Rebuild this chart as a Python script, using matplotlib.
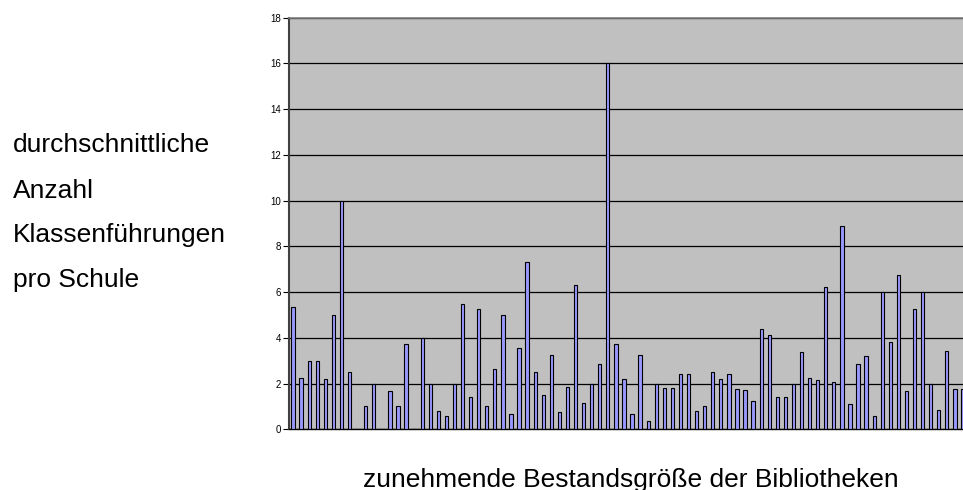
import numpy as np
import matplotlib
matplotlib.use("Agg")
import matplotlib.pyplot as plt

plt.rcParams['font.family'] = ['Liberation Sans', 'DejaVu Sans']

# average number of class visits per school, libraries sorted by stock size
values = [5.33, 2.24, 3.0, 3.0, 2.2, 5.0, 10.0, 2.49, 0, 1.0,
          2.0, 0, 1.66, 1.0, 3.75, 0, 4.0, 2.0, 0.79, 0.6,
          2.0, 5.5, 1.4, 5.25, 1.0, 2.65, 5.0, 0.66, 3.57, 7.33,
          2.49, 1.5, 3.24, 0.74, 1.87, 6.33, 1.14, 2.0, 2.84, 16.0,
          3.75, 2.2, 0.66, 3.24, 0.36, 2.0, 1.79, 1.79, 2.4, 2.4,
          0.82, 1.0, 2.49, 2.2, 2.42, 1.75, 1.73, 1.24, 4.39, 4.11,
          1.43, 1.43, 2.0, 3.37, 2.23, 2.14, 6.21, 2.07, 8.88, 1.12,
          2.84, 3.19, 0.57, 6.0, 3.83, 6.75, 1.66, 5.25, 6.0, 2.0,
          0.83, 3.41, 1.78, 1.75]
yticks = [0, 2, 4, 6, 8, 10, 12, 14, 16, 18]
ylabel_lines = ['durchschnittliche', 'Anzahl', 'Klassenführungen', 'pro Schule']
xlabel = 'zunehmende Bestandsgröße der Bibliotheken'

fig = plt.figure(figsize=(9.63, 4.9), dpi=100)
# plot area runs a bit past the right edge of the picture (cropped like the original)
ax = fig.add_axes([289 / 963, 60.7 / 490, 678 / 963, 411.6 / 490])

x = np.arange(len(values))
ax.bar(x, values, width=0.4, color='#9999FF', edgecolor='black', linewidth=0.8, zorder=3)

ax.set_facecolor('#C0C0C0')
ax.set_xlim(-0.5, len(values) - 0.5)
ax.set_ylim(0, 18)
ax.set_yticks(yticks)
ax.yaxis.grid(True, color='black', linewidth=0.9, zorder=1)
ax.set_axisbelow(True)
ax.set_xticks([])
ax.tick_params(axis='y', direction='out', length=4, width=0.8, pad=1.5,
               labelsize=7, colors='black')

ax.spines['left'].set_color('#404040')
ax.spines['left'].set_linewidth(1.5)
ax.spines['top'].set_color('#808080')
ax.spines['top'].set_linewidth(1.2)
ax.spines['bottom'].set_color('black')
ax.spines['bottom'].set_linewidth(1.0)
ax.spines['right'].set_visible(False)

# side label, one word group per line
for i, line in enumerate(ylabel_lines):
    yb = [152, 197.5, 242, 287][i]
    fig.text(13 / 963, 1 - yb / 490, line, fontsize=19, va='baseline', ha='left')

fig.text(631 / 963, 1 - 486.5 / 490, xlabel, fontsize=19, va='baseline', ha='center')

fig.savefig('out.png', dpi=100)
